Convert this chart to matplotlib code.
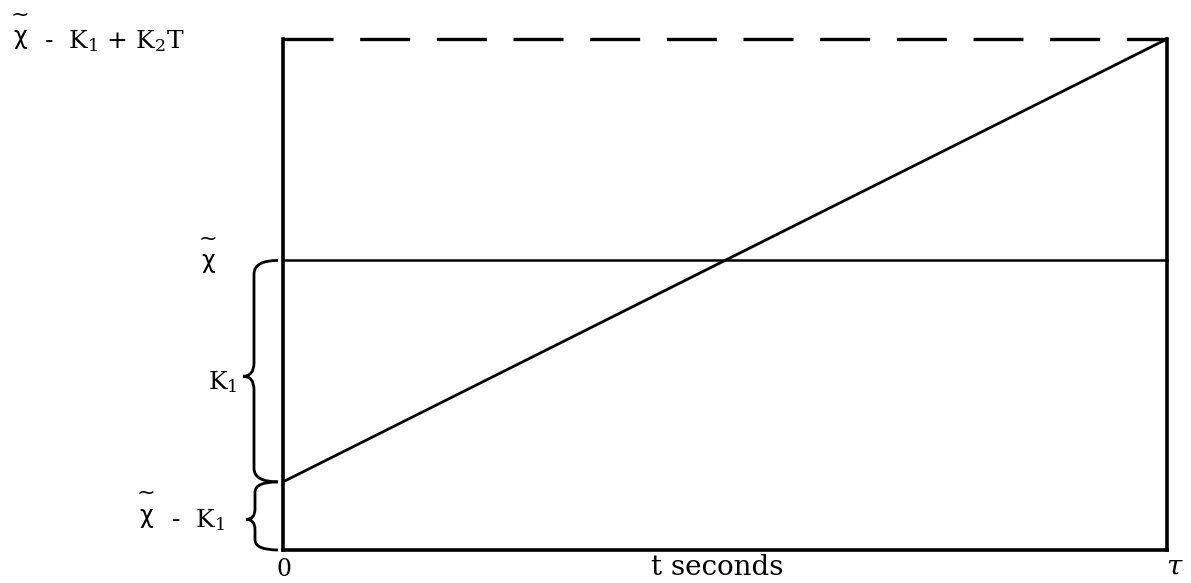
import matplotlib
matplotlib.use("Agg")
import matplotlib.pyplot as plt
from matplotlib.path import Path
from matplotlib.patches import PathPatch
import matplotlib.transforms as mtransforms

plt.rcParams['font.family'] = ['DejaVu Serif']
plt.rcParams['mathtext.fontset'] = 'dejavuserif'

# ---- data (arbitrary units) ----
t_range = [0.0, 1.0]              # 0 .. tau
level_start = 1.0                 # x~ - K1
level_xtilde = 4.25               # x~
level_top = 7.5                   # x~ - K1 + K2 T
ramp_values = [level_start, level_top]
flat_values = [level_xtilde, level_xtilde]
top_values = [level_top, level_top]

W, H = 1191, 583
fig = plt.figure(figsize=(W / 100, H / 100), dpi=100)
ax = fig.add_axes([283 / W, 1 - 550 / H, (1167 - 283) / W, (550 - 39) / H])
ax.set_xlim(t_range)
ax.set_ylim(0, level_top)
ax.set_xticks([])
ax.set_yticks([])
for s in ['left', 'right', 'bottom']:
    ax.spines[s].set_linewidth(2.6)
    ax.spines[s].set_color('black')
    ax.spines[s].set_capstyle('projecting')
ax.spines['top'].set_visible(False)

ax.plot(t_range, ramp_values, color='black', lw=2.0, solid_capstyle='round', clip_on=False)
ax.plot(t_range, flat_values, color='black', lw=1.8, clip_on=False)
ax.plot(t_range, top_values, color='black', lw=2.4, dashes=(15, 8), clip_on=False)


def fx(px):
    return px / W


def fy(py):
    return 1 - py / H


btrans = mtransforms.blended_transform_factory(fig.transFigure, ax.transData)


def brace(y0, y1, ym, xs_px, xt_px, xr_px, r):
    xs, xt, xr = fx(xs_px), fx(xt_px), fx(xr_px)
    verts = [(xr, y1), (xs, y1), (xs, y1 - r),
             (xs, ym + r), (xs, ym), (xt, ym),
             (xs, ym), (xs, ym - r),
             (xs, y0 + r), (xs, y0), (xr, y0)]
    codes = [Path.MOVETO, Path.CURVE3, Path.CURVE3,
             Path.LINETO, Path.CURVE3, Path.CURVE3,
             Path.CURVE3, Path.CURVE3,
             Path.LINETO, Path.CURVE3, Path.CURVE3]
    p = PathPatch(Path(verts, codes), fill=False, lw=2.0, ec='black',
                  transform=btrans, clip_on=False)
    fig.add_artist(p)


brace(level_start, level_xtilde, 2.55, 254, 243, 278, 0.2)
brace(0.0, level_start, 0.45, 255, 246, 278, 0.15)

fs = 18


def chi(xc, base, tilde_y):
    fig.text(fx(xc), fy(base), 'χ', family='DejaVu Sans', fontsize=17,
             ha='center', va='baseline')
    fig.text(fx(xc), fy(tilde_y), '~', family='DejaVu Sans', fontsize=16,
             ha='center', va='center')


chi(20, 44, 15)
fig.text(fx(44), fy(48), r'-  K$_1$ + K$_2$T', fontsize=fs, ha='left', va='baseline')
chi(208, 268, 239)
fig.text(fx(238), fy(389), r'K$_1$', fontsize=fs, ha='right', va='baseline')
chi(146, 523, 493)
fig.text(fx(171), fy(527), r'-  K$_1$', fontsize=fs, ha='left', va='baseline')
fig.text(fx(284), fy(576), '0', fontsize=fs - 1, ha='center', va='baseline')
fig.text(fx(717), fy(575), 't seconds', fontsize=20, ha='center', va='baseline')
fig.text(fx(1175), fy(575), r'$\tau$', fontsize=20, ha='center', va='baseline')

fig.savefig('out.png', dpi=100)
